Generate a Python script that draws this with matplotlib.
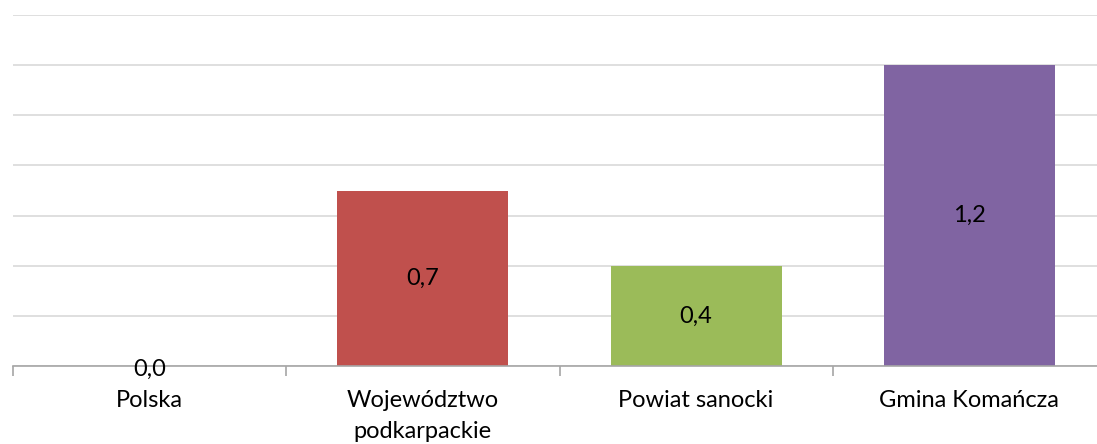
import matplotlib.pyplot as plt

categories = ['Polska', 'Województwo\npodkarpackie', 'Powiat sanocki', 'Gmina Komańcza']
values = [0.0, 0.7, 0.4, 1.2]
value_labels = ['0,0', '0,7', '0,4', '1,2']
colors = ['#4F81BD', '#C0504D', '#9BBB59', '#8064A2']

plt.rcParams['font.family'] = ['Lato', 'DejaVu Sans']

fig = plt.figure(figsize=(10.97, 4.44), dpi=100)
ax = fig.add_axes([13 / 1097, 78 / 444, 1093 / 1097, 351 / 444])

x = range(len(categories))
bars = ax.bar(x, values, width=0.626, color=colors, zorder=2)

for i, (v, lab) in enumerate(zip(values, value_labels)):
    ax.text(i, v / 2 if v > 0 else -0.012, lab, ha='center', va='center',
            fontsize=17, color='black', zorder=5)

ax.set_xlim(-0.5, len(categories) - 0.5)
ax.set_ylim(0, 1.4)
ax.set_yticks([0.2 * k for k in range(8)])
ax.yaxis.grid(True, color='#D9D9D9', linewidth=1.2, zorder=0)
ax.tick_params(axis='y', left=False, labelleft=False)

ax.set_xticks(list(x))
ax.set_xticklabels(categories, fontsize=17, linespacing=1.6)
ax.tick_params(axis='x', length=0, pad=17)
# category boundary ticks
ax.set_xticks([i - 0.5 for i in range(len(categories) + 1)], minor=True)
ax.tick_params(axis='x', which='minor', length=7, color='#A6A6A6', width=1.2)

for s in ['top', 'right', 'left']:
    ax.spines[s].set_visible(False)
ax.spines['bottom'].set_color('#A6A6A6')
ax.spines['bottom'].set_linewidth(1.2)
ax.spines['bottom'].set_zorder(4)

plt.savefig('out.png', dpi=100)
